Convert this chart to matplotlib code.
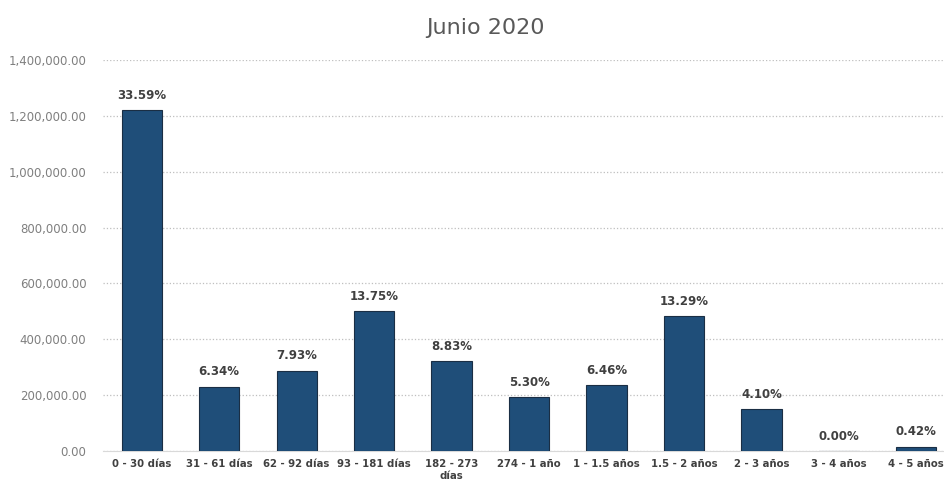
import matplotlib
matplotlib.use("Agg")
import matplotlib.pyplot as plt
from matplotlib.ticker import FuncFormatter

# Data
categories = ["0 - 30 días", "31 - 61 días", "62 - 92 días", "93 - 181 días", "182 - 273\ndías",
              "274 - 1 año", "1 - 1.5 años", "1.5 - 2 años", "2 - 3 años", "3 - 4 años", "4 - 5 años"]
amounts = [1221000, 230000, 288000, 500000, 321000, 193000, 235000, 483000, 149000, 0, 15000]
pct_labels = ["33.59%", "6.34%", "7.93%", "13.75%", "8.83%", "5.30%", "6.46%", "13.29%", "4.10%", "0.00%", "0.42%"]

fig = plt.figure(figsize=(9.45, 4.92), dpi=100)
ax = fig.add_axes([103 / 945, 41 / 492, 842 / 945, 391 / 492])

x = range(len(categories))
bars = ax.bar(x, amounts, width=0.52, color="#1F4E79", edgecolor="#1a2e44", linewidth=0.8, zorder=3)

# Percentage labels above bars
for rect, lab in zip(bars, pct_labels):
    ax.annotate(lab, (rect.get_x() + rect.get_width() / 2, rect.get_height()),
                xytext=(0, 6), textcoords="offset points", ha="center", va="bottom",
                fontsize=8.5, fontweight="bold", color="#404040")

ax.set_ylim(0, 1400000)
ax.set_xlim(-0.5, 10.37)
ax.set_yticks(range(0, 1400001, 200000))
ax.yaxis.set_major_formatter(FuncFormatter(lambda v, p: f"{v:,.2f}"))
ax.set_xticks(list(x))
ax.set_xticklabels(categories, fontsize=7.3, fontweight="bold", color="#404040")
ax.tick_params(axis="y", labelsize=8.5, colors="#7f7f7f", length=0, pad=12)
ax.tick_params(axis="x", length=0, pad=6)

ax.grid(axis="y", linestyle=":", color="#bfbfbf", linewidth=0.9, zorder=0)
for s in ["top", "right", "left"]:
    ax.spines[s].set_visible(False)
ax.spines["bottom"].set_color("#d9d9d9")

fig.text(485 / 945, 1 - 28 / 492, "Junio 2020", ha="center", va="center", fontsize=16, color="#595959")

fig.savefig("out.png", dpi=100)
